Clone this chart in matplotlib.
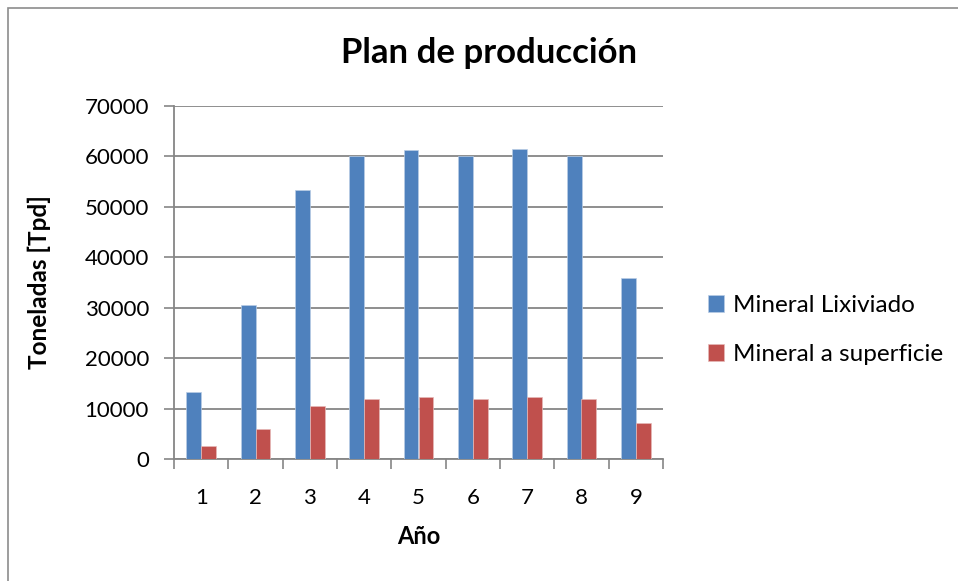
import matplotlib
matplotlib.use("Agg")
import matplotlib.pyplot as plt
from matplotlib.patches import Rectangle
import numpy as np

plt.rcParams['font.family'] = ['Lato', 'DejaVu Sans']

years = ["1", "2", "3", "4", "5", "6", "7", "8", "9"]
lixiviado = [13200, 30600, 53300, 60000, 61200, 60000, 61400, 60000, 35800]
superficie = [2600, 6000, 10600, 11800, 12200, 11800, 12200, 11950, 7050]

blue = "#4F81BD"
red = "#C0504D"
grid_gray = "#868686"

W, H = 958, 581
fig = plt.figure(figsize=(W / 100, H / 100), dpi=100)

# outer chart frame
fig.patches.append(Rectangle((8 / W, -0.1), 1.2, 1 - 8 / H + 0.1,
                             transform=fig.transFigure, fill=False,
                             edgecolor="#8c8c8c", linewidth=1.2))

ax = fig.add_axes([174 / W, 1 - 459 / H, (663 - 174) / W, (459 - 105.7) / H])

x = np.arange(1, len(years) + 1)
bw = 0.275
ax.bar(x - bw / 2, lixiviado, width=bw, color=blue, label="Mineral Lixiviado",
       edgecolor="#b9cde5", linewidth=0.5, zorder=3)
ax.bar(x + bw / 2, superficie, width=bw, color=red, label="Mineral a superficie",
       edgecolor="#e6b9b8", linewidth=0.5, zorder=3)

ax.set_xlim(0.5, len(years) + 0.5)
ax.set_ylim(0, 70000)
ax.set_yticks(np.arange(0, 70001, 10000))
ax.yaxis.grid(True, color=grid_gray, linewidth=1.3, zorder=0)
ax.set_axisbelow(True)

ax.set_xticks(x)
ax.set_xticklabels(years)
ax.set_xticks(np.arange(0.5, len(years) + 1, 1), minor=True)
ax.tick_params(axis="x", which="major", length=0, pad=21, labelsize=16)
ax.tick_params(axis="x", which="minor", length=7, width=1.2, color=grid_gray, direction="out")
ax.tick_params(axis="y", which="major", length=7, width=1.2, color=grid_gray,
               direction="out", labelsize=16, pad=11)

for side in ("top", "right"):
    ax.spines[side].set_visible(False)
for side in ("left", "bottom"):
    ax.spines[side].set_color(grid_gray)
    ax.spines[side].set_linewidth(1.3)

ax.set_xlabel("Año", fontsize=17, fontweight="bold", labelpad=12)
ax.set_ylabel("Toneladas [Tpd]", fontsize=17.5, fontweight="bold", labelpad=24)

fig.text(489 / W, 1 - 53 / H, "Plan de producción", ha="center", va="center",
         fontsize=25, fontweight="bold")

ax.legend(loc="center left", bbox_to_anchor=(686 / W, 1 - 330 / H),
          bbox_transform=fig.transFigure, frameon=False, fontsize=17.5,
          handlelength=0.65, handleheight=0.65, handletextpad=0.4,
          labelspacing=1.15)

fig.savefig("out.png", dpi=100)
